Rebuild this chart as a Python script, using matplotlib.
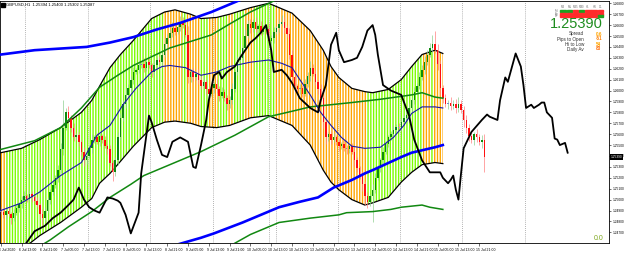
import numpy as np
import matplotlib
matplotlib.use("Agg")
import matplotlib.pyplot as plt
import matplotlib.transforms as mtransforms
from matplotlib.patches import Rectangle
from matplotlib.ticker import FormatStrFormatter

plt.rcParams['font.family'] = ['Liberation Sans', 'DejaVu Sans']
plt.rcParams['hatch.linewidth'] = 1.0

W, H = 625, 258
BASE = 1.2400   # every level below is in pips above 1.2400

# ---- H1 candles, one entry per bar (close, upper wick, lower wick)
close_pips = [89, 86, 90, 87, 83, 88, 92, 96, 100, 103,
              101, 105, 102, 99, 95, 87, 83, 90, 100, 107,
              113, 120, 127, 146, 166, 180, 175, 166, 157, 159,
              153, 144, 136, 140, 147, 155, 157, 153, 158, 155,
              149, 146, 134, 125, 136, 157, 175, 188, 196, 202,
              210, 217, 219, 223, 224, 221, 226, 223, 217, 223,
              228, 226, 233, 243, 248, 253, 257, 254, 258, 263,
              260, 251, 212, 217, 212, 215, 210, 204, 208, 201,
              197, 202, 206, 201, 195, 199, 193, 188, 191, 201,
              217, 228, 230, 239, 250, 261, 257, 263, 256, 259,
              254, 257, 256, 245, 248, 254, 257, 261, 263, 257,
              252, 233, 212, 204, 201, 202, 197, 206, 213, 221,
              215, 208, 201, 193, 171, 157, 160, 155, 157, 153,
              149, 151, 147, 146, 149, 144, 136, 129, 122, 114,
              103, 98, 103, 109, 120, 129, 136, 144, 151, 157,
              160, 164, 167, 166, 171, 175, 178, 184, 191, 199,
              204, 212, 219, 226, 233, 239, 243, 237, 224, 202,
              193, 188, 189, 186, 188, 184, 188, 182, 173, 166,
              158, 155, 160, 157, 153, 155, 139]
wick_up = [3, 2, 4, 3, 2, 3, 4, 2, 3, 5,
           2, 4, 3, 2, 3, 2, 4, 3, 2, 3,
           4, 3, 5, 6, 25, 4, 6, 3, 4, 2,
           3, 2, 4, 3, 3, 5, 2, 4, 3, 2,
           3, 2, 4, 2, 3, 5, 4, 3, 6, 4,
           3, 5, 2, 4, 3, 6, 3, 4, 2, 5,
           3, 4, 2, 5, 4, 3, 6, 4, 3, 5,
           4, 6, 8, 3, 4, 2, 5, 3, 4, 2,
           3, 4, 2, 5, 3, 4, 2, 3, 4, 6,
           3, 4, 5, 3, 6, 4, 5, 3, 4, 2,
           5, 3, 4, 6, 3, 4, 2, 5, 6, 4,
           3, 5, 4, 3, 2, 4, 3, 5, 4, 6,
           3, 4, 2, 5, 3, 4, 2, 3, 4, 2,
           3, 2, 4, 3, 2, 3, 4, 3, 2, 4,
           3, 4, 2, 5, 4, 3, 2, 4, 3, 2,
           3, 4, 2, 3, 4, 3, 2, 5, 3, 4,
           3, 5, 4, 6, 4, 5, 8, 12, 6, 4,
           3, 4, 2, 5, 3, 4, 6, 3, 4, 5,
           3, 4, 2, 5, 3, 4, 5]
wick_dn = [2, 3, 4, 2, 5, 3, 2, 3, 4, 2,
           3, 2, 4, 3, 2, 5, 6, 3, 2, 4,
           3, 2, 4, 3, 5, 2, 3, 4, 3, 2,
           4, 3, 5, 3, 2, 4, 3, 2, 4, 3,
           2, 4, 3, 8, 3, 4, 2, 3, 4, 2,
           3, 4, 2, 3, 2, 4, 3, 2, 5, 3,
           2, 3, 4, 2, 3, 2, 4, 3, 2, 3,
           3, 2, 5, 4, 3, 2, 4, 3, 2, 4,
           3, 2, 4, 3, 5, 2, 3, 6, 4, 3,
           2, 3, 2, 4, 3, 2, 4, 3, 2, 3,
           3, 2, 4, 2, 3, 4, 2, 3, 2, 4,
           3, 4, 3, 5, 2, 4, 3, 2, 3, 4,
           2, 3, 4, 3, 5, 6, 3, 4, 2, 3,
           4, 3, 2, 4, 3, 2, 5, 4, 3, 6,
           8, 6, 4, 24, 3, 2, 4, 3, 2, 3,
           2, 3, 4, 2, 3, 2, 3, 2, 4, 3,
           2, 3, 2, 4, 3, 2, 4, 3, 5, 6,
           4, 3, 5, 4, 3, 5, 4, 3, 6, 5,
           4, 3, 5, 4, 3, 6, 14]

# ---- channel (band) read at selected bars
band_bar = [0, 8, 15, 23, 31, 35, 38, 42, 46, 51, 58, 63, 67, 73, 77, 83, 88,
            96, 103, 112, 119, 124, 127, 130, 135, 140, 143, 149, 154, 158,
            162, 167, 170]
band_upper = [143, 147, 155, 166, 180, 191, 204, 221, 233, 246, 266, 272, 274,
              270, 266, 267, 270, 276, 280, 271, 255, 237, 222, 212, 202, 199,
              198, 201, 210, 222, 233, 237, 234]
band_lower = [37, 54, 67, 79, 93, 101, 115, 124, 135, 149, 166, 171, 172, 170,
              167, 166, 168, 175, 177, 168, 150, 127, 116, 109, 100, 95, 97,
              102, 116, 125, 132, 134, 133]
# (first bar, end bar, colour) of the histogram fill
band_segments = [(0, 2, 'o'), (2, 63, 'g'), (63, 70, 'o'), (70, 72, 'g'),
                 (72, 77, 'o'), (77, 80, 'g'), (80, 84, 'o'), (84, 88, 'g'),
                 (88, 90, 'o'), (90, 94, 'g'), (94, 98, 'o'), (98, 106, 'g'),
                 (106, 141, 'o'), (141, 163, 'g'), (163, 166, 'o'),
                 (166, 167, 'g'), (167, 171, 'o')]

mid_bar = [0, 8, 15, 23, 31, 37, 42, 47, 52, 58, 62, 65, 71, 77, 83, 88, 96,
           103, 108, 112, 115, 119, 123, 127, 131, 135, 140, 146, 151, 155,
           158, 162, 167, 170]
mid_pips = [90, 97, 107, 122, 134, 159, 168, 187, 202, 217, 222, 223, 221, 214,
            217, 222, 226, 228, 225, 221, 210, 196, 180, 168, 157, 149, 147,
            148, 157, 168, 179, 185, 185, 184]

blue_hi_bar = [0, 13, 33, 42, 51, 60, 69, 81, 92, 98]
blue_hi_pips = [233, 237, 240, 244, 249, 256, 262, 272, 283, 289]
blue_lo_bar = [58, 77, 82, 93, 103, 107, 115, 122, 128, 135, 140, 143, 154,
               158, 167, 170]
blue_lo_pips = [52, 65, 69, 79, 89, 93, 98, 102, 111, 118, 124, 127, 139, 143,
                148, 150]

green1_bar = [0, 13, 23, 31, 38, 45, 51, 58, 65, 73, 81, 88, 96, 104, 108]
green1_pips = [146, 154, 166, 184, 203, 214, 223, 231, 239, 245, 251, 261, 272,
               281, 286]
green2_bar = [4, 8, 19, 26, 35, 42, 50, 55, 62, 69, 77, 90, 103, 112, 119, 135,
              146, 158, 162, 167, 170]
green2_pips = [41, 47, 63, 75, 89, 102, 114, 122, 129, 136, 144, 159, 176, 181,
               185, 189, 192, 196, 198, 194, 193]
green3_bar = [84, 86, 90, 96, 102, 107, 113, 119, 130, 133, 143, 150, 154, 162,
              165, 170]
green3_pips = [46, 54, 60, 68, 74, 79, 81, 83, 86, 88, 89, 91, 93, 95, 93, 91]

# ---- thick black shifted line
jag_bar = [6, 8, 13, 17, 20, 23, 26, 28, 30, 32, 34, 36, 38, 41, 43, 45, 46, 48,
           50, 53, 54, 57, 58, 60, 62, 64, 66, 69, 72, 74, 75, 77, 79, 80, 82,
           84, 85, 87, 90, 92, 94, 96, 98, 100, 102, 104, 105, 108, 110, 112,
           115, 119, 122, 123, 125, 127, 129, 130, 132, 135, 137, 139, 141, 143,
           144, 145, 147, 150, 154, 157, 159, 162, 165, 169, 170, 172, 173, 174,
           175, 176, 177, 178, 181, 185, 187, 188, 191, 192, 194, 195, 198, 200,
           201, 202, 204, 205, 207, 208, 209, 210, 212, 213, 214, 215, 217, 218]
jag_pips = [46, 54, 71, 76, 83, 88, 95, 100, 111, 100, 93, 90, 88, 102, 101, 99,
            97, 86, 69, 88, 124, 177, 171, 155, 141, 139, 153, 157, 153, 130,
            129, 150, 173, 191, 214, 217, 211, 217, 222, 230, 237, 244, 248, 253,
            260, 237, 217, 219, 214, 207, 193, 184, 180, 191, 205, 242, 253, 237,
            226, 228, 230, 240, 255, 260, 251, 233, 205, 200, 196, 177, 155, 136,
            125, 125, 120, 115, 118, 122, 109, 100, 124, 147, 162, 173, 178, 176,
            173, 191, 212, 208, 234, 222, 205, 184, 187, 184, 187, 189, 189, 180,
            175, 156, 155, 150, 152, 143]

date_labels = ["6 Jul 2020", "6 Jul 13:00", "6 Jul 21:00", "7 Jul 05:00",
               "7 Jul 13:00", "7 Jul 21:00", "8 Jul 05:00", "8 Jul 13:00",
               "8 Jul 21:00", "9 Jul 05:00", "9 Jul 13:00", "9 Jul 21:00",
               "10 Jul 05:00", "10 Jul 13:00", "10 Jul 21:00", "13 Jul 05:00",
               "13 Jul 13:00", "13 Jul 21:00", "14 Jul 05:00", "14 Jul 13:00",
               "14 Jul 21:00", "15 Jul 05:00", "15 Jul 13:00", "15 Jul 21:00"]
label_bars = list(range(0, 8 * len(date_labels), 8))
grid_bars = [9.5, 33.5, 57.5, 81.5, 103, 106, 129.5, 153.5, 177.5, 201.5]

header = "GBPUSD,H1  1.25394 1.25400 1.25302 1.25387"
last_price = "1.25390"
tf_names = ["M1", "M5", "M15", "M30", "H1", "H4", "D1"]
tf_rows = [["g", "g", "r", "g", "r", "r", "r"],
           ["r", "r", "r", "r", "r", "r", "r"],
           ["r", "r", "r", "r", "r", "r", "g"]]
tf_row_names = ["Trd", "Sig", "Str"]
info_names = ["Spread", "Pips to Open", "Hi to Low", "Daily Av"]
info_values = ["0.6", "-51", "54", "83"]
info_colors = ["#FFA500", "#FF7F00", "#FFA500", "#FF6A00"]


def price(p):
    return BASE + np.asarray(p, dtype=float) / 10000.0


def fx(px):
    return px / W


def fy(py):
    return 1 - py / H


fig = plt.figure(figsize=(W / 100, H / 100), dpi=100)
fig.patch.set_facecolor('white')
ax = fig.add_axes([0.0, 15 / H, 609 / W, 242 / H])
ax.set_facecolor('white')
x0, x1 = -0.3, 233.9
y0, y1 = price(60.2), price(282.1)
ax.set_xlim(x0, x1)
ax.set_ylim(y0, y1)

# vertical dotted grid
for gb in grid_bars:
    ax.axvline(gb, color='#9a9a9a', lw=0.6, ls=(0, (1, 1.5)), zorder=0.5)

# striped channel
bx = np.array(band_bar)
b_up = price(band_upper)
b_lo = price(band_lower)
band_cols = {'g': '#7CFC00', 'o': '#FFA500'}
for s, e, c in band_segments:
    coll = ax.fill_between(bx, b_lo, b_up, facecolor='none',
                           edgecolor=band_cols[c], hatch='||||||',
                           linewidth=0, zorder=1)
    left = max(s - 0.5, x0)
    coll.set_clip_path(Rectangle((left, y0), (e - 0.5) - left, y1 - y0,
                                 transform=ax.transData))
ax.plot(bx, b_up, color='black', lw=0.9, zorder=2)
ax.plot(bx, b_lo, color='black', lw=0.9, zorder=2)

# candles
n = len(close_pips)
xs = np.arange(n)
c = np.array(close_pips, dtype=float)
o = np.r_[c[0] + 1, c[:-1]]
hi = np.maximum(o, c) + np.array(wick_up)
lo = np.minimum(o, c) - np.array(wick_dn)
body_col = np.where(np.abs(c - o) <= 1, '#6E8FD0',
                    np.where(c > o, '#0E8A0E', '#FF1010'))
wick_col = np.where(c >= o, '#8FCF8F', '#FF8080')
ax.vlines(xs, price(lo), price(hi), colors=wick_col, lw=0.5, zorder=3)
body_h = np.maximum(np.abs(c - o), 0.8)
ax.bar(xs, body_h / 10000.0, bottom=price(np.minimum(o, c)), width=0.55,
       color=body_col, linewidth=0, zorder=3.1)

# moving averages
ax.plot(green1_bar, price(green1_pips), color='#118811', lw=1.1, zorder=4)
ax.plot(green2_bar, price(green2_pips), color='#118811', lw=1.1, zorder=4)
ax.plot(green3_bar, price(green3_pips), color='#118811', lw=1.1, zorder=4)
ax.plot(mid_bar, price(mid_pips), color='#1818A8', lw=0.8, zorder=4)
ax.plot(blue_hi_bar, price(blue_hi_pips), color='#0000FF', lw=1.9, zorder=4)
ax.plot(blue_lo_bar, price(blue_lo_pips), color='#0000FF', lw=1.9, zorder=4)
ax.plot(jag_bar, price(jag_pips), color='black', lw=1.3, zorder=5)

# axes look
for sp in ax.spines.values():
    sp.set_color('black')
    sp.set_linewidth(0.6)
ax.yaxis.tick_right()
ax.set_yticks(price(np.arange(70, 281, 10)))
ax.yaxis.set_major_formatter(FormatStrFormatter('%.5f'))
ax.tick_params(axis='y', labelsize=2.3, length=1.5, width=0.4, pad=0.8,
               colors='black')
ax.set_xticks(label_bars)
ax.set_xticklabels(date_labels)
ax.tick_params(axis='x', labelsize=2.5, length=2, width=0.4, pad=1.5)
shift = mtransforms.ScaledTranslation(6.5 / 100, 0, fig.dpi_scale_trans)
for lbl in ax.get_xticklabels():
    lbl.set_transform(lbl.get_transform() + shift)

# current price tag on the price scale
tag_tr = mtransforms.blended_transform_factory(ax.transAxes, ax.transData)
ax.text(1.003, float(last_price), last_price, transform=tag_tr, fontsize=2.3,
        color='white', va='center', ha='left', zorder=6, clip_on=False,
        bbox=dict(boxstyle='square,pad=0.3', fc='black', ec='black', lw=0))

# header top-left
fig.add_artist(Rectangle((fx(1.5), fy(6.5)), 3 / W, 3 / H, color='black',
                         transform=fig.transFigure))
fig.text(fx(6), fy(5), header, fontsize=3, va='center', ha='left')

# timeframe table top-right
col_w = 6.2
for j, name in enumerate(tf_names):
    cx = 560 + j * col_w
    fig.text(fx(cx + col_w / 2), fy(7), name, fontsize=2, color='#707070',
             ha='center', va='center')
    for r, row in enumerate(tf_rows):
        colr = '#1FA01F' if row[j] == 'g' else '#FF2A2A'
        fig.add_artist(Rectangle((fx(cx + 0.4), fy(12 + r * 2.6)),
                                 (col_w - 0.8) / W, 2.0 / H, color=colr,
                                 transform=fig.transFigure))
for r, name in enumerate(tf_row_names):
    fig.text(fx(558), fy(11 + r * 2.6), name, fontsize=1.8, color='#707070',
             ha='right', va='center')

fig.text(fx(603), fy(24), last_price, fontsize=10.5, color='#1E8C1E',
         ha='right', va='center')
for k, (nm, val, vc) in enumerate(zip(info_names, info_values, info_colors)):
    yy = 34 + k * 5
    fig.text(fx(584), fy(yy), nm, fontsize=3.3, color='#303030', ha='right',
             va='center')
    fig.text(fx(596), fy(yy), val, fontsize=3.3, color=vc, ha='left',
             va='center', fontweight='bold')

fig.text(fx(599), fy(239), "0.0", fontsize=5, color='#7FA81E', ha='center',
         va='center')

fig.savefig('out.png', dpi=100)
